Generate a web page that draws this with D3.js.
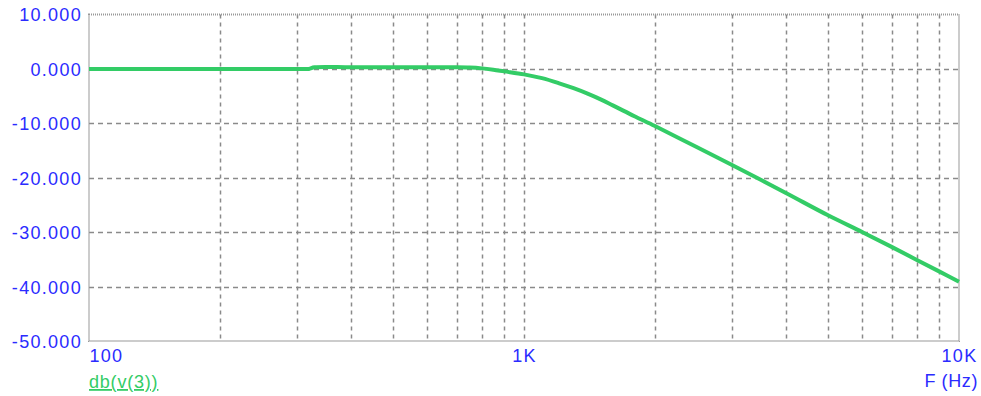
<!DOCTYPE html>
<html><head><meta charset="utf-8">
<script src="https://cdn.jsdelivr.net/npm/d3@7"></script>
<style>html,body{margin:0;padding:0;background:#fff;}svg{display:block;}</style>
</head><body>
<svg id="chart" width="981" height="396"></svg>
<script>
// Data
const freqs = [100, 150, 200, 250, 300, 320, 330, 400, 500, 600, 700, 750, 800, 850, 900, 1000, 1100, 1200, 1300, 1400, 1500, 1600, 1700, 1800, 2000, 2500, 3000, 4000, 5000, 6000, 7000, 8000, 9000, 10000];
const dbValues = [0, 0, 0, 0, 0, 0, 0.3, 0.3, 0.3, 0.3, 0.3, 0.25, 0.1, -0.15, -0.45, -1.0, -1.7, -2.6, -3.55, -4.55, -5.6, -6.7, -7.75, -8.75, -10.5, -14.4, -17.6, -22.8, -26.9, -30.0, -32.7, -35.1, -37.2, -39.1];
const yTicks = [10, 0, -10, -20, -30, -40, -50];
const yTickLabels = ["10.000", "0.000", "-10.000", "-20.000", "-30.000", "-40.000", "-50.000"];
const xTicks = [100, 1000, 10000];
const xTickLabels = ["100", "1K", "10K"];
const xGrid = [200, 300, 400, 500, 600, 700, 800, 900, 1000, 2000, 3000, 4000, 5000, 6000, 7000, 8000, 9000];
const yGrid = [0, -10, -20, -30, -40];
const seriesName = "db(v(3))";
const xAxisTitle = "F (Hz)";

const L = 89, R = 959, T = 14.5, B = 341;
const svg = d3.select("#chart");
const x = d3.scaleLog().domain([100, 10000]).range([L, R]);
const y = d3.scaleLinear().domain([-50, 10]).range([B, T]);
const blue = "#2b2bff";
const green = "#33cc66";
const font = "'Liberation Sans', Arial, sans-serif";

// grid
svg.append("g").selectAll("line").data(xGrid).join("line")
  .attr("x1", d => Math.round(x(d)) + 0.5).attr("x2", d => Math.round(x(d)) + 0.5)
  .attr("y1", T).attr("y2", B)
  .attr("stroke", "#8a8a8a").attr("stroke-width", 1.5).attr("stroke-dasharray", "4,4");
svg.append("g").selectAll("line").data(yGrid).join("line")
  .attr("y1", d => Math.round(y(d)) + 0.5).attr("y2", d => Math.round(y(d)) + 0.5)
  .attr("x1", L).attr("x2", R)
  .attr("stroke", "#8a8a8a").attr("stroke-width", 1.5).attr("stroke-dasharray", "5,4");

// border
svg.append("rect").attr("x", L).attr("y", T).attr("width", R - L).attr("height", B - T)
  .attr("fill", "none").attr("stroke", "#999").attr("stroke-width", 2).attr("stroke-dasharray", "1,1");

// axes labels via d3 axes (no lines)
const yAxis = d3.axisLeft(y).tickValues(yTicks).tickFormat((d, i) => yTickLabels[i]).tickSize(0).tickPadding(7);
const gy = svg.append("g").attr("transform", `translate(${L},0)`).call(yAxis);
gy.select(".domain").remove();
gy.selectAll("text").attr("fill", blue).attr("font-family", font).attr("font-size", 18)
  .attr("letter-spacing", "1.3px").attr("dy", "0.36em");

const xAxis = d3.axisBottom(x).tickValues(xTicks).tickFormat((d, i) => xTickLabels[i]).tickSize(0).tickPadding(8);
const gx = svg.append("g").attr("transform", `translate(0,${B})`).call(xAxis);
gx.select(".domain").remove();
gx.selectAll("text").attr("fill", blue).attr("font-family", font).attr("font-size", 18)
  .attr("letter-spacing", "1.3px").attr("dy", "0.71em")
  .attr("text-anchor", (d, i) => i === 0 ? "start" : "middle");

// series
const pts = freqs.map((f, i) => [f, dbValues[i]]);
svg.append("path").datum(pts)
  .attr("fill", "none").attr("stroke", green).attr("stroke-width", 4).attr("stroke-linejoin", "round")
  .attr("d", d3.line().x(d => x(d[0])).y(d => y(d[1])).curve(d3.curveCatmullRom.alpha(0.5)));

// legend & title
svg.append("text").attr("x", L).attr("y", 388).attr("fill", green).attr("font-family", font)
  .attr("font-size", 18).attr("letter-spacing", "0.8px").attr("text-decoration", "underline").text(seriesName);
svg.append("text").attr("x", 978).attr("y", 387).attr("text-anchor", "end").attr("fill", blue)
  .attr("font-family", font).attr("font-size", 18).attr("letter-spacing", "0.6px").text(xAxisTitle);
</script>
</body></html>
